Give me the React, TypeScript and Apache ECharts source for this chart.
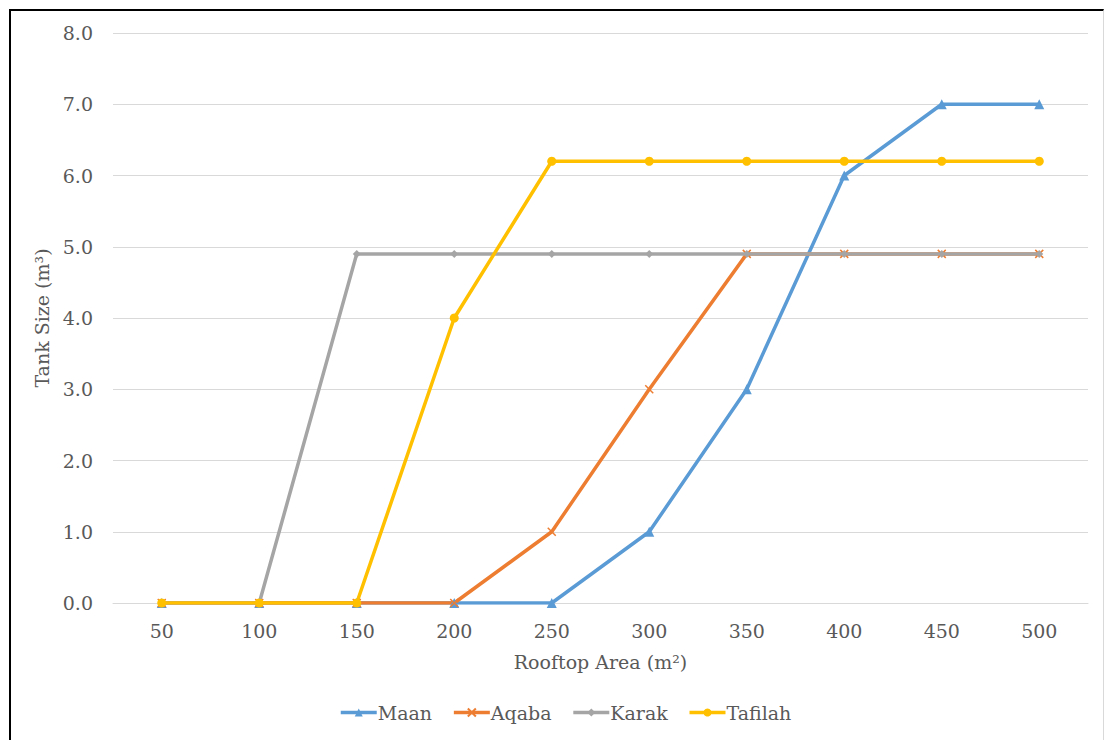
import React, { useEffect, useRef } from "react";
import * as echarts from "echarts";

// Rooftop area (m²) categories
const rooftopArea = ["50", "100", "150", "200", "250", "300", "350", "400", "450", "500"];

// Tank size (m³) for each governorate
const maan = [0, 0, 0, 0, 0, 1, 3, 6, 7, 7];
const aqaba = [0, 0, 0, 0, 1, 3, 4.9, 4.9, 4.9, 4.9];
const karak = [0, 0, 4.9, 4.9, 4.9, 4.9, 4.9, 4.9, 4.9, 4.9];
const tafilah = [0, 0, 0, 4, 6.2, 6.2, 6.2, 6.2, 6.2, 6.2];

const FONT = "DejaVu Serif";
const TEXT = "#595959";
const GRID = "#d9d9d9";

// cross-shaped marker
const CROSS = "path://M0,0 L10,10 M10,0 L0,10";

export default function App() {
  const ref = useRef<HTMLDivElement>(null);

  useEffect(() => {
    if (!ref.current) return;
    const chart = echarts.init(ref.current, undefined, { renderer: "svg" });

    const mk = (
      name: string,
      data: number[],
      color: string,
      symbol: string,
      symbolSize: number,
      extra: any = {}
    ) => ({
      name,
      type: "line",
      data,
      symbol,
      symbolSize,
      showSymbol: true,
      lineStyle: { color, width: 3.5 },
      itemStyle: { color, ...extra },
      emphasis: { disabled: true },
    });

    const txt = { color: TEXT, fontSize: 19, fontFamily: FONT };

    chart.setOption({
      animation: false,
      grid: { left: 113, right: 18, top: 33, bottom: 137, containLabel: false },
      legend: {
        bottom: 13,
        left: 334,
        itemWidth: 36,
        itemHeight: 10,
        itemGap: 20,
        lineStyle: { width: 3.5 },
        textStyle: { ...txt, padding: [0, 0, 0, -4] },
        data: ["Maan", "Aqaba", "Karak", "Tafilah"],
      },
      xAxis: {
        type: "category",
        data: rooftopArea,
        boundaryGap: true,
        name: "Rooftop Area (m²)",
        nameLocation: "middle",
        nameGap: 49,
        nameTextStyle: txt,
        axisLine: { lineStyle: { color: GRID, width: 1 } },
        axisTick: { show: false },
        axisLabel: { ...txt, margin: 18 },
        splitLine: { show: false },
      },
      yAxis: {
        type: "value",
        min: 0,
        max: 8,
        interval: 1,
        name: "Tank Size (m³)",
        nameLocation: "middle",
        nameGap: 55,
        nameRotate: 90,
        nameTextStyle: txt,
        axisLine: { show: false },
        axisTick: { show: false },
        axisLabel: {
          ...txt,
          margin: 20,
          formatter: (v: number) => v.toFixed(1),
        },
        splitLine: { lineStyle: { color: GRID, width: 1 } },
      },
      series: [
        mk("Maan", maan, "#5B9BD5", "triangle", 10),
        mk("Aqaba", aqaba, "#ED7D31", CROSS, 8, { borderColor: "#ED7D31", borderWidth: 1.5 }),
        mk("Karak", karak, "#A5A5A5", "diamond", 8),
        mk("Tafilah", tafilah, "#FFC000", "circle", 9),
      ],
    });

    return () => chart.dispose();
  }, []);

  return (
    <div
      style={{
        position: "absolute",
        left: 0,
        top: 0,
        width: 1106,
        height: 740,
        background: "#fff",
      }}
    >
      <div
        style={{
          position: "absolute",
          left: 9,
          top: 9,
          width: 1095,
          height: 740,
          borderLeft: "2px solid #000",
          borderTop: "2px solid #000",
          borderRight: "1px solid #d9d9d9",
          boxSizing: "border-box",
        }}
      />
      <div ref={ref} style={{ position: "absolute", left: 0, top: 0, width: 1106, height: 740 }} />
    </div>
  );
}
